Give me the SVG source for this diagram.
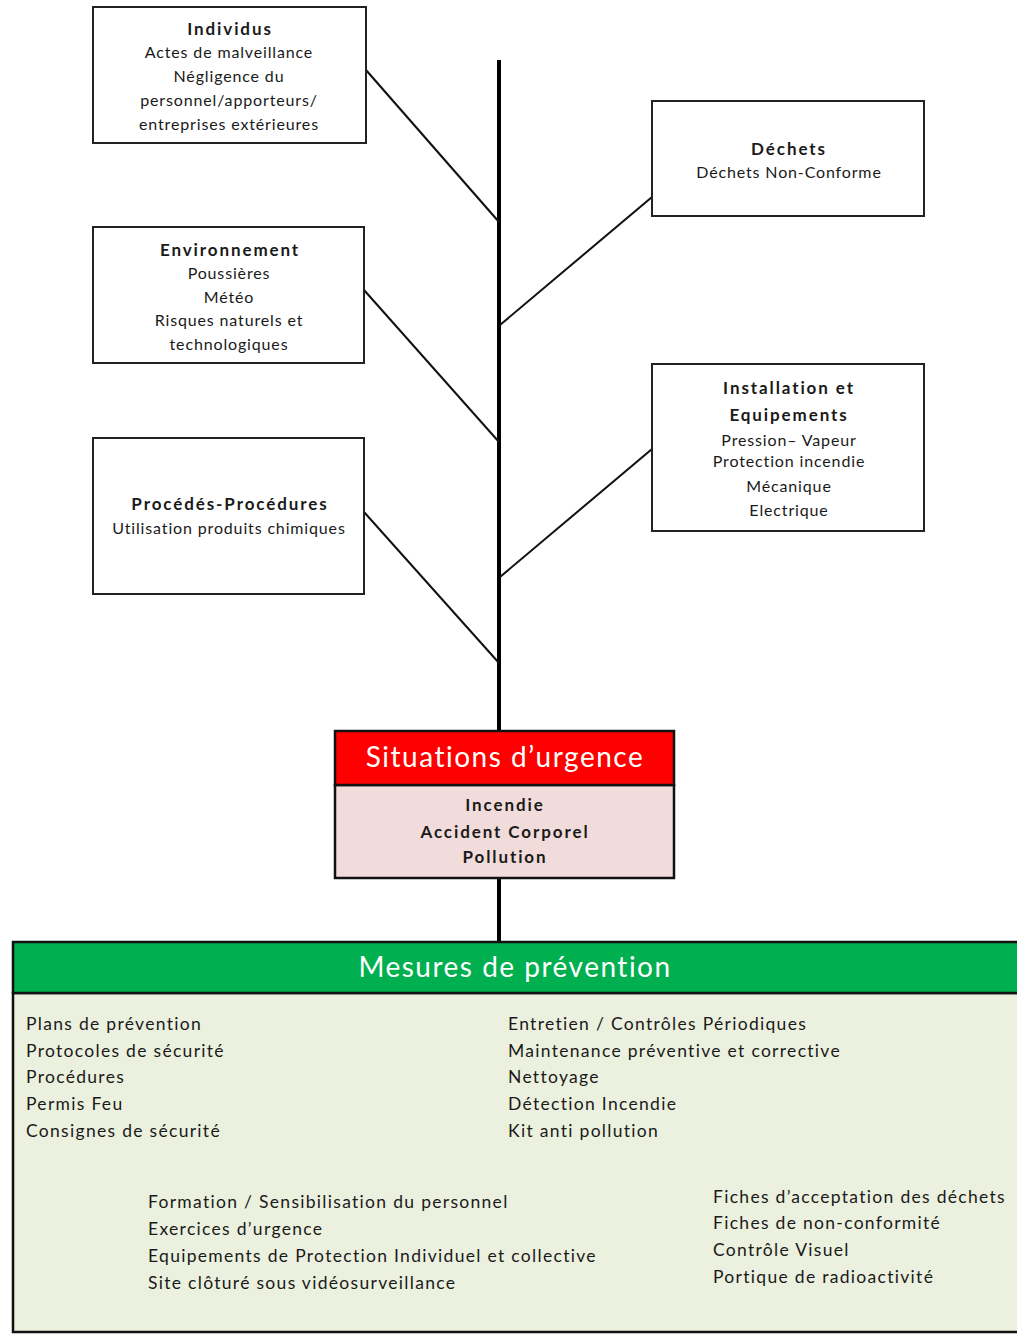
<svg xmlns="http://www.w3.org/2000/svg" width="1017" height="1334" viewBox="0 0 1017 1334">
<style>
text{font-family:Lato,"Open Sans","Liberation Sans",sans-serif;fill:#1a1a1a}
.box{fill:#fff;stroke:#222;stroke-width:2}
.t{font-size:17px;font-weight:bold;text-anchor:middle;letter-spacing:1.9px}
.i{font-size:16px;text-anchor:middle;letter-spacing:0.85px}
.conn{stroke:#111;stroke-width:2;fill:none}
.li{font-size:17.5px;letter-spacing:1.3px}
.hd{font-size:28px;fill:#fff;text-anchor:middle;letter-spacing:1.5px}
</style>
<rect width="1017" height="1334" fill="#fff"/>
<g id="connectors">
<line x1="499" y1="60" x2="499" y2="942" stroke="#000" stroke-width="4"/>
<line class="conn" x1="366" y1="70" x2="499" y2="222"/>
<line class="conn" x1="364" y1="290" x2="499" y2="442"/>
<line class="conn" x1="364" y1="512" x2="499" y2="663"/>
<line class="conn" x1="652" y1="197" x2="500" y2="325"/>
<line class="conn" x1="652" y1="449" x2="500" y2="577"/>
</g>
<g id="individus">
<rect class="box" x="93" y="7" width="273" height="136"/>
<text class="t" x="230" y="35">Individus</text>
<text class="i" x="229" y="58">Actes de malveillance</text>
<text class="i" x="229" y="82">Négligence du</text>
<text class="i" x="229" y="106">personnel/apporteurs/</text>
<text class="i" x="229" y="130">entreprises extérieures</text>
</g>
<g id="environnement">
<rect class="box" x="93" y="227" width="271" height="136"/>
<text class="t" x="230" y="256">Environnement</text>
<text class="i" x="229" y="279">Poussières</text>
<text class="i" x="229" y="303">Météo</text>
<text class="i" x="229" y="326">Risques naturels et</text>
<text class="i" x="229" y="350">technologiques</text>
</g>
<g id="procedes">
<rect class="box" x="93" y="438" width="271" height="156"/>
<text class="t" x="230" y="510">Procédés-Procédures</text>
<text class="i" x="229" y="534">Utilisation produits chimiques</text>
</g>
<g id="dechets">
<rect class="box" x="652" y="101" width="272" height="115"/>
<text class="t" x="789" y="155">Déchets</text>
<text class="i" x="789" y="178">Déchets Non-Conforme</text>
</g>
<g id="installation">
<rect class="box" x="652" y="364" width="272" height="167"/>
<text class="t" x="789" y="394">Installation et</text>
<text class="t" x="789" y="421">Equipements</text>
<text class="i" x="789" y="446">Pression– Vapeur</text>
<text class="i" x="789" y="467">Protection incendie</text>
<text class="i" x="789" y="492">Mécanique</text>
<text class="i" x="789" y="516">Electrique</text>
</g>
<g id="situations">
<rect x="335" y="785" width="339" height="93" fill="#f2dcdb" stroke="#111" stroke-width="2.5"/>
<rect x="335" y="731" width="339" height="54" fill="#ff0000" stroke="#111" stroke-width="2.5"/>
<text class="hd" x="505" y="767">Situations d’urgence</text>
<text class="t" x="505" y="811">Incendie</text>
<text class="t" x="505" y="838">Accident Corporel</text>
<text class="t" x="505" y="863">Pollution</text>
</g>
<g id="mesures">
<rect x="13" y="993" width="1010" height="339" fill="#ebf1de" stroke="#111" stroke-width="2.5"/>
<rect x="13" y="942" width="1010" height="51" fill="#00b050" stroke="#111" stroke-width="2.5"/>
<text class="hd" x="515" y="977">Mesures de prévention</text>
<text class="li" x="26" y="1030">Plans de prévention</text>
<text class="li" x="26" y="1057">Protocoles de sécurité</text>
<text class="li" x="26" y="1083">Procédures</text>
<text class="li" x="26" y="1110">Permis Feu</text>
<text class="li" x="26" y="1137">Consignes de sécurité</text>
<text class="li" x="508" y="1030">Entretien / Contrôles Périodiques</text>
<text class="li" x="508" y="1057">Maintenance préventive et corrective</text>
<text class="li" x="508" y="1083">Nettoyage</text>
<text class="li" x="508" y="1110">Détection Incendie</text>
<text class="li" x="508" y="1137">Kit anti pollution</text>
<text class="li" x="148" y="1208">Formation / Sensibilisation du personnel</text>
<text class="li" x="148" y="1235">Exercices d’urgence</text>
<text class="li" x="148" y="1262">Equipements de Protection Individuel et collective</text>
<text class="li" x="148" y="1289">Site clôturé sous vidéosurveillance</text>
<text class="li" x="713" y="1203">Fiches d’acceptation des déchets</text>
<text class="li" x="713" y="1229">Fiches de non-conformité</text>
<text class="li" x="713" y="1256">Contrôle Visuel</text>
<text class="li" x="713" y="1283">Portique de radioactivité</text>
</g>
</svg>
